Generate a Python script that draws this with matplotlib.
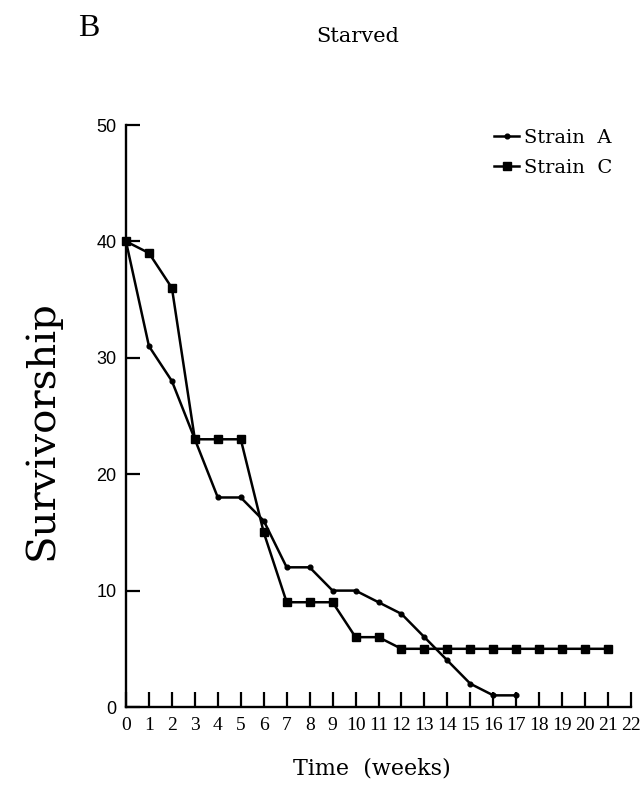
import matplotlib
matplotlib.use("Agg")
import matplotlib.pyplot as plt

# dados (semanas x sobreviventes)
semanas_a = [0, 1, 2, 3, 4, 5, 6, 7, 8, 9, 10, 11, 12, 13, 14, 15, 16, 17]
cepa_a = [40, 31, 28, 23, 18, 18, 16, 12, 12, 10, 10, 9, 8, 6, 4, 2, 1, 1]

semanas_c = [0, 1, 2, 3, 4, 5, 6, 7, 8, 9, 10, 11, 12, 13, 14, 15, 16, 17, 18, 19, 20, 21]
cepa_c = [40, 39, 36, 23, 23, 23, 15, 9, 9, 9, 6, 6, 5, 5, 5, 5, 5, 5, 5, 5, 5, 5]

ticks_x = [0, 1, 2, 3, 4, 5, 6, 7, 8, 9, 10, 11, 12, 13, 14, 15, 16, 17, 18, 19, 20, 21, 22]
ticks_y = [0, 10, 20, 30, 40, 50]

fig = plt.figure(figsize=(6.44, 7.86), dpi=100)
ax = fig.add_axes([126 / 644, 79 / 786, 505 / 644, 582 / 786])

ax.plot(semanas_a, cepa_a, color="black", linewidth=1.8, marker="o",
        markersize=3.4, label="Strain  A", clip_on=False)
ax.plot(semanas_c, cepa_c, color="black", linewidth=1.8, marker="s",
        markersize=6.2, label="Strain  C", clip_on=False)

ax.set_xlim(0, 22)
ax.set_ylim(0, 50)
ax.spines["top"].set_visible(False)
ax.spines["right"].set_visible(False)
ax.spines["left"].set_linewidth(1.7)
ax.spines["bottom"].set_linewidth(1.7)

ax.set_xticks(ticks_x)
ax.set_xticklabels([str(t) for t in ticks_x], fontfamily="Liberation Serif", fontsize=14)
ax.set_yticks(ticks_y)
ax.set_yticklabels([str(t) for t in ticks_y], fontfamily="Liberation Sans", fontsize=13)
ax.tick_params(axis="x", direction="in", length=11, width=1.6, pad=7)
ax.tick_params(axis="y", direction="in", length=10, width=1.6, pad=7)

leg = ax.legend(loc="upper left", bbox_to_anchor=(494 / 644, 1 - 129 / 786),
                bbox_transform=fig.transFigure, frameon=False, numpoints=1,
                handlelength=1.3, handletextpad=0.25, labelspacing=0.6,
                borderaxespad=0, borderpad=0,
                prop={"family": "DejaVu Serif", "size": 14})

fig.text(78 / 644, 1 - 43 / 786, "B", fontfamily="Liberation Serif", fontsize=23,
         ha="left", va="bottom")
fig.text(358 / 644, 1 - 37 / 786, "Starved", fontfamily="DejaVu Serif", fontsize=15,
         ha="center", va="center")
fig.text(372 / 644, 1 - 769 / 786, "Time  (weeks)", fontfamily="DejaVu Serif",
         fontsize=16, ha="center", va="center")
fig.text(42 / 644, 1 - 430 / 786, "Survivorship", fontfamily="DejaVu Serif",
         fontsize=29, rotation=90, ha="center", va="center")

plt.savefig("out.png")
plt.close("all")
